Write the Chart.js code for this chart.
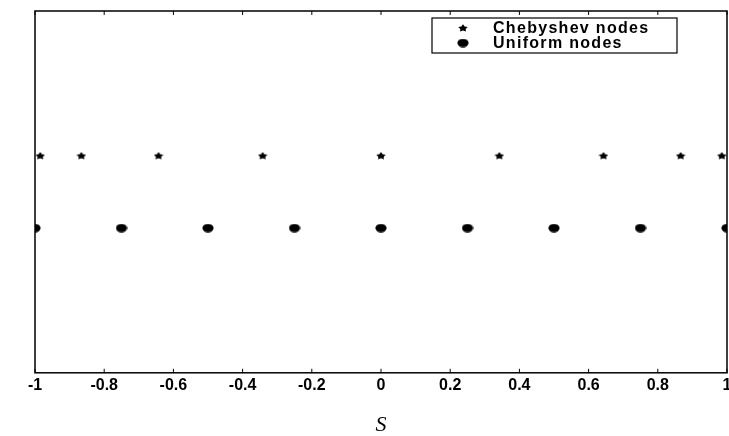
<!DOCTYPE html>
<html>
<head>
<meta charset="utf-8">
<script src="https://cdn.jsdelivr.net/npm/chart.js@4.4.1/dist/chart.umd.min.js"></script>
<style>
  html, body { margin: 0; padding: 0; background: #fff; }
  #wrap { width: 729px; height: 436px; }
</style>
</head>
<body>
<div id="wrap"><canvas id="nodesChart" width="729" height="436"></canvas></div>
<script>
// node positions
const chebyshevX = [-0.985, -0.866, -0.643, -0.342, 0, 0.342, 0.643, 0.866, 0.985];
const uniformX = [-1, -0.75, -0.5, -0.25, 0, 0.25, 0.5, 0.75, 1];
const chebyshevLevel = 0.6;
const uniformLevel = 0.4;
const xTicks = [-1, -0.8, -0.6, -0.4, -0.2, 0, 0.2, 0.4, 0.6, 0.8, 1];
const seriesNames = ['Chebyshev nodes', 'Uniform nodes'];

const labelFont = { family: 'Liberation Sans, Arial, sans-serif', size: 16, weight: 'bold' };

// little marker sprites: squashed star and flat ellipse
function makeStar() {
    const c = document.createElement('canvas');
    c.width = 10; c.height = 8;
    const g = c.getContext('2d');
    g.fillStyle = '#000';
    g.beginPath();
    for (let i = 0; i < 10; i++) {
        const r = i % 2 ? 2.8 : 5;
        const a = -Math.PI / 2 + i * Math.PI / 5;
        g.lineTo(5 + r * Math.cos(a), 4.3 + r * 0.8 * Math.sin(a));
    }
    g.closePath();
    g.fill();
    return c;
}
function makeEllipse() {
    const c = document.createElement('canvas');
    c.width = 12; c.height = 9;
    const g = c.getContext('2d');
    g.fillStyle = '#000';
    g.beginPath();
    g.ellipse(6, 4.5, 5.6, 4.2, 0, 0, Math.PI * 2);
    g.fill();
    return c;
}
const starMark = makeStar();
const dotMark = makeEllipse();

// frame, inward ticks and boxed legend like the old matlab figure
const framePlugin = {
    id: 'frame',
    afterDatasetsDraw(chart) {
        const { ctx, chartArea: a, scales } = chart;
        ctx.save();
        ctx.strokeStyle = '#000';
        ctx.lineWidth = 1.5;
        ctx.strokeRect(a.left, a.top, a.right - a.left, a.bottom - a.top);

        ctx.lineWidth = 1;
        xTicks.forEach(v => {
            const px = scales.x.getPixelForValue(v);
            ctx.beginPath();
            ctx.moveTo(px, a.bottom); ctx.lineTo(px, a.bottom - 4);
            ctx.moveTo(px, a.top); ctx.lineTo(px, a.top + 4);
            ctx.stroke();
        });

        // legend box
        const bx = 432, by = 18, bw = 245, bh = 35;
        ctx.fillStyle = '#fff';
        ctx.fillRect(bx, by, bw, bh);
        ctx.lineWidth = 1.2;
        ctx.strokeRect(bx, by, bw, bh);
        ctx.font = 'bold 16px Liberation Sans, Arial, sans-serif';
        ctx.letterSpacing = '1.3px';
        ctx.textBaseline = 'middle';
        chart.data.datasets.forEach((ds, i) => {
            const y = by + 10 + i * 15;
            Chart.helpers.drawPoint(ctx, {
                pointStyle: ds.pointStyle,
                radius: 4,
                borderWidth: 0,
                rotation: 0
            }, 463, y);
            ctx.fillStyle = '#000';
            ctx.fillText(ds.label, 493, y + 1);
        });
        ctx.restore();
    }
};

new Chart(document.getElementById('nodesChart'), {
    type: 'scatter',
    data: {
        datasets: [
            {
                label: seriesNames[0],
                data: chebyshevX.map(x => ({ x: x, y: chebyshevLevel })),
                pointStyle: starMark,
                pointRadius: 5,
                borderColor: '#000',
                backgroundColor: '#000'
            },
            {
                label: seriesNames[1],
                data: uniformX.map(x => ({ x: x, y: uniformLevel })),
                pointStyle: dotMark,
                pointRadius: 6,
                borderColor: '#000',
                backgroundColor: '#000'
            }
        ]
    },
    options: {
        responsive: false,
        animation: false,
        layout: { autoPadding: false, padding: { left: 35, right: 2, top: 11, bottom: 0 } },
        plugins: {
            legend: { display: false },
            tooltip: { enabled: false }
        },
        scales: {
            x: {
                type: 'linear',
                min: -1,
                max: 1,
                afterBuildTicks(scale) {
                    scale.ticks = xTicks.map(v => ({ value: v }));
                },
                afterFit(scale) {
                    scale.paddingLeft = 0;
                    scale.paddingRight = 0;
                },
                ticks: {
                    color: '#000',
                    font: labelFont,
                    padding: 3,
                    maxRotation: 0,
                    callback: v => String(Math.round(v * 10) / 10)
                },
                grid: { display: false, drawTicks: false },
                border: { display: false },
                title: {
                    display: true,
                    text: 'S',
                    color: '#000',
                    font: { family: 'Liberation Serif, Times New Roman, serif', size: 22, style: 'italic', lineHeight: 1 },
                    padding: { top: 16, bottom: 0 }
                }
            },
            y: {
                display: false,
                min: 0,
                max: 1
            }
        }
    },
    plugins: [framePlugin]
});
</script>
</body>
</html>
